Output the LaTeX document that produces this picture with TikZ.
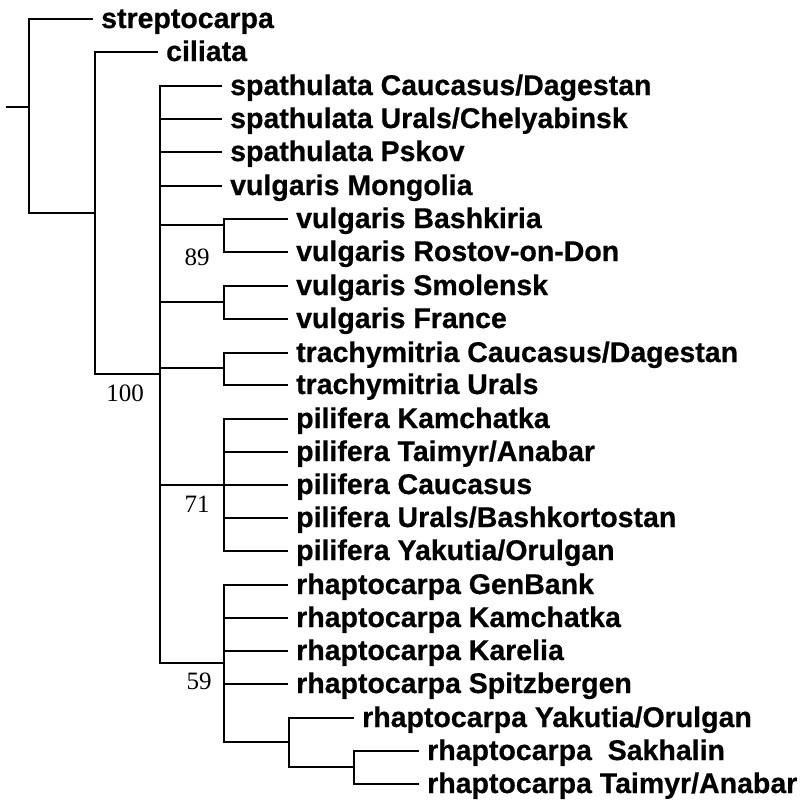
\documentclass[tikz,border=0pt]{standalone}
\usepackage{fontspec}
\setmainfont{Liberation Sans}
\newfontfamily\leaffont{Liberation Sans Bold}[FakeBold=0.6]
\newfontfamily\numfont{Liberation Serif}
\begin{document}
\begin{tikzpicture}[x=1pt,y=-1pt,
  br/.style={line width=1.5pt,line cap=rect},
  leaf/.style={anchor=west,inner xsep=9pt,inner ysep=0pt,text height=20pt,text depth=2pt,font=\leaffont\fontsize{28.5}{30}\selectfont},
  num/.style={inner sep=0pt,font=\numfont\fontsize{25}{27}\selectfont}]
\useasboundingbox (0,0) rectangle (803,801);
% internal points
\coordinate (stub) at (7,107);
\coordinate (root) at (29,107);
\coordinate (nA) at (95,213);
\coordinate (nB) at (160,374);
\coordinate (nV1) at (224,225);
\coordinate (nV2) at (224,302);
\coordinate (nT) at (224,368);
\coordinate (nP) at (224,485);
\coordinate (nR) at (224,663);
\coordinate (nR1) at (289,742);
\coordinate (nR2) at (354,767);
% leaves
\node[leaf] (l1) at (92,19) {streptocarpa};
\node[leaf] (l2) at (157,52) {ciliata};
\node[leaf] (l3) at (221,86) {spathulata Caucasus/Dagestan};
\node[leaf] (l4) at (221,119) {spathulata Urals/Chelyabinsk};
\node[leaf] (l5) at (221,152) {spathulata Pskov};
\node[leaf] (l6) at (221,186) {vulgaris Mongolia};
\node[leaf] (l7) at (287,219) {vulgaris Bashkiria};
\node[leaf] (l8) at (287,252) {vulgaris Rostov-on-Don};
\node[leaf] (l9) at (287,286) {vulgaris Smolensk};
\node[leaf] (l10) at (287,319) {vulgaris France};
\node[leaf] (l11) at (287,353) {trachymitria Caucasus/Dagestan};
\node[leaf] (l12) at (287,385) {trachymitria Urals};
\node[leaf] (l13) at (287,419) {pilifera Kamchatka};
\node[leaf] (l14) at (287,452) {pilifera Taimyr/Anabar};
\node[leaf] (l15) at (287,485) {pilifera Caucasus};
\node[leaf] (l16) at (287,518) {pilifera Urals/Bashkortostan};
\node[leaf] (l17) at (287,551) {pilifera Yakutia/Orulgan};
\node[leaf] (l18) at (287,585) {rhaptocarpa GenBank};
\node[leaf] (l19) at (287,618) {rhaptocarpa Kamchatka};
\node[leaf] (l20) at (287,651) {rhaptocarpa Karelia};
\node[leaf] (l21) at (287,684) {rhaptocarpa Spitzbergen};
\node[leaf] (l22) at (353,718) {rhaptocarpa Yakutia/Orulgan};
\node[leaf] (l23) at (418,751) {rhaptocarpa\ \ Sakhalin};
\node[leaf] (l24) at (418,784) {rhaptocarpa Taimyr/Anabar};
% support values
\node[num] (s89) at (197,257) {89};
\node[num] (s100) at (125,393) {100};
\node[num] (s71) at (197,504) {71};
\node[num] (s59) at (199,681) {59};
% branches
\draw[br] (stub) -- (root);
\draw[br] (root) |- (l1.west);
\draw[br] (root) |- (nA);
\draw[br] (nA) |- (l2.west);
\draw[br] (nA) |- (nB);
\draw[br] (nB) |- (l3.west);
\draw[br] (nB) |- (l4.west);
\draw[br] (nB) |- (l5.west);
\draw[br] (nB) |- (l6.west);
\draw[br] (nB) |- (nV1);
\draw[br] (nB) |- (nV2);
\draw[br] (nB) |- (nT);
\draw[br] (nB) |- (nP);
\draw[br] (nB) |- (nR);
\draw[br] (nV1) |- (l7.west);
\draw[br] (nV1) |- (l8.west);
\draw[br] (nV2) |- (l9.west);
\draw[br] (nV2) |- (l10.west);
\draw[br] (nT) |- (l11.west);
\draw[br] (nT) |- (l12.west);
\draw[br] (nP) |- (l13.west);
\draw[br] (nP) |- (l14.west);
\draw[br] (nP) |- (l15.west);
\draw[br] (nP) |- (l16.west);
\draw[br] (nP) |- (l17.west);
\draw[br] (nR) |- (l18.west);
\draw[br] (nR) |- (l19.west);
\draw[br] (nR) |- (l20.west);
\draw[br] (nR) |- (l21.west);
\draw[br] (nR) |- (nR1);
\draw[br] (nR1) |- (l22.west);
\draw[br] (nR1) |- (nR2);
\draw[br] (nR2) |- (l23.west);
\draw[br] (nR2) |- (l24.west);
\end{tikzpicture}
\end{document}
